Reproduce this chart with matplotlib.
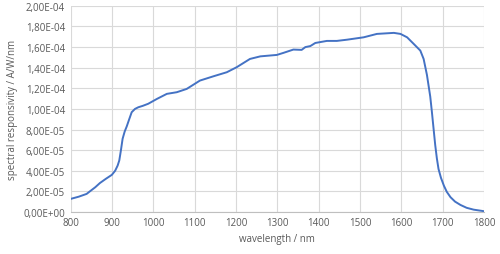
import matplotlib
matplotlib.use("Agg")
import matplotlib.pyplot as plt
from matplotlib.ticker import FuncFormatter, MultipleLocator

wavelength = [800, 820, 839, 847, 860, 871, 885, 900, 908, 914, 918, 922, 926, 931, 936, 942, 948, 956, 964, 975, 988,
              1009, 1033, 1057, 1081, 1113, 1146, 1178, 1202, 1234, 1259, 1299, 1315, 1339, 1359, 1368, 1380, 1392,
              1420, 1444, 1469, 1509, 1541, 1582, 1598, 1614, 1630, 1646, 1654, 1662, 1670, 1674, 1678, 1682, 1686,
              1690, 1696, 1703, 1710, 1719, 1730, 1743, 1758, 1775, 1800]
responsivity = [1.26e-5, 1.48e-5, 1.75e-5, 2.0e-5, 2.4e-5, 2.8e-5, 3.2e-5, 3.6e-5, 4.0e-5, 4.5e-5, 5.0e-5, 6.0e-5,
                7.1e-5, 7.8e-5, 8.3e-5, 9.0e-5, 9.68e-5, 1.0e-4, 1.016e-4, 1.03e-4, 1.05e-4,
                1.097e-4, 1.146e-4, 1.162e-4, 1.194e-4, 1.275e-4, 1.317e-4, 1.356e-4, 1.405e-4, 1.485e-4,
                1.51e-4, 1.524e-4, 1.544e-4, 1.576e-4, 1.573e-4, 1.6e-4, 1.61e-4, 1.64e-4,
                1.66e-4, 1.66e-4, 1.672e-4, 1.695e-4, 1.728e-4, 1.738e-4, 1.728e-4, 1.695e-4, 1.631e-4,
                1.566e-4, 1.485e-4, 1.33e-4, 1.12e-4, 9.7e-5, 8.1e-5, 6.5e-5, 5.2e-5,
                4.17e-5, 3.3e-5, 2.55e-5, 1.95e-5, 1.43e-5, 1.0e-5, 6.8e-6, 4.0e-6, 2.2e-6, 7e-7]

plt.rcParams['font.family'] = ['Open Sans', 'DejaVu Sans']
fig = plt.figure(figsize=(5, 2.55), dpi=100)
ax = fig.add_axes([0.141, 0.165, 0.827, 0.808])
ax.plot(wavelength, responsivity, color='#4472C4', lw=1.4, solid_joinstyle='round')
ax.set_xlim(800, 1800)
ax.set_ylim(0, 2.0e-4)
ax.xaxis.set_major_locator(MultipleLocator(100))
ax.yaxis.set_major_locator(MultipleLocator(2e-5))

def fmt(v, pos):
    s = "%.2E" % v
    return s.replace('.', ',')
ax.yaxis.set_major_formatter(FuncFormatter(fmt))
ax.grid(True, color='#d9d9d9', lw=0.8)
ax.set_axisbelow(True)
for s in ['top', 'right', 'left']:
    ax.spines[s].set_visible(False)
ax.spines['bottom'].set_color('#bfbfbf')
ax.tick_params(length=0, labelsize=7, colors='#595959', pad=4)
ax.set_xlabel('wavelength / nm', fontsize=7, color='#595959', labelpad=3)
ax.set_ylabel('spectral responsivity / A/W/nm', fontsize=7, color='#595959', labelpad=4)
fig.savefig('out.png', dpi=100)
